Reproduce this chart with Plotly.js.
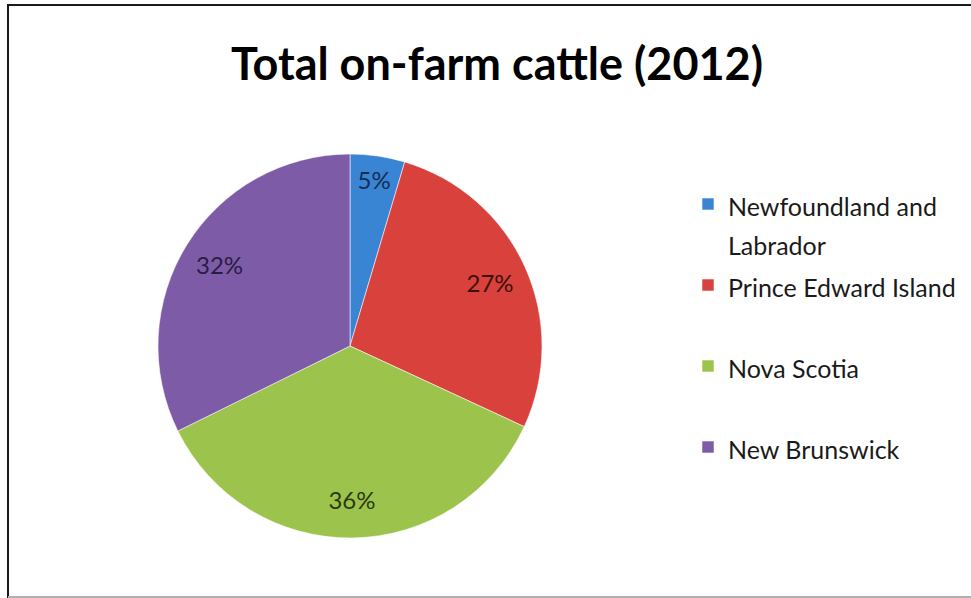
<!DOCTYPE html>
<html>
<head>
<meta charset="utf-8">
<script src="https://cdn.plot.ly/plotly-3.0.1.min.js"></script>
<style>
  html, body { margin: 0; padding: 0; background: #ffffff; }
  #chart { width: 971px; height: 598px; }
</style>
</head>
<body>
<div id="chart"></div>
<script>
// Data (share of total on-farm cattle, %)
const provinces = ["Newfoundland and<br>Labrador", "Prince Edward Island", "Nova Scotia", "New Brunswick"];
const shares = [4.6, 27.3, 35.8, 32.3];
const sliceColors = ["#3A84D4", "#D8413C", "#9CC44C", "#7D5BA6"];
const labelColors = ["#132F55", "#3E100D", "#2C3A10", "#2B1C46"];
const chartTitle = "Total on-farm cattle (2012)";

const W = 971, H = 598;
const cx = 350, cy = 346, R = 192;
const dom = {
  x: [(cx - R) / W, (cx + R) / W],
  y: [(H - cy - R) / H, (H - cy + R) / H]
};
const fam = "Lato, 'Open Sans', sans-serif";

// legend entries: every entry takes two lines, like the wrapped first one
const legendLabels = provinces.map(function (p) {
  const lines = p.split("<br>");
  if (lines.length < 2) lines.push(" ");
  return lines.map(function (l) { return "<span style=\"font-size:25px\">" + l + "</span>"; }).join("<br>");
});

// Filled pie (slices + legend)
const pieTrace = {
  type: "pie",
  labels: legendLabels,
  values: shares,
  sort: false,
  direction: "clockwise",
  rotation: 0,
  textinfo: "none",
  marker: { colors: sliceColors, line: { color: "rgba(255,255,255,0.55)", width: 1 } },
  hoverinfo: "label+percent",
  domain: dom
};

// Same data, transparent ring: only used so the percent labels sit in the outer part of each slice
const labelTrace = {
  type: "pie",
  labels: legendLabels,
  values: shares,
  sort: false,
  direction: "clockwise",
  rotation: 0,
  hole: 0.6,
  showlegend: false,
  textinfo: "percent",
  texttemplate: "%{percent:.0%}",
  textposition: "inside",
  insidetextorientation: "horizontal",
  insidetextfont: { family: fam, size: 24, color: labelColors },
  marker: { colors: ["rgba(0,0,0,0)", "rgba(0,0,0,0)", "rgba(0,0,0,0)", "rgba(0,0,0,0)"], line: { width: 0 } },
  hoverinfo: "skip",
  domain: dom
};

const layout = {
  width: W,
  height: H,
  margin: { l: 0, r: 0, t: 0, b: 0 },
  paper_bgcolor: "#ffffff",
  plot_bgcolor: "#ffffff",
  font: { family: fam, color: "#000000" },
  title: {
    text: "<b>" + chartTitle + "</b>",
    font: { family: "Lato, sans-serif", size: 45, color: "#000000" },
    x: 497 / W,
    xanchor: "center",
    y: 1 - 64 / H,
    yanchor: "middle"
  },
  showlegend: true,
  legend: {
    x: 688 / W,
    xanchor: "left",
    y: 1 - 178 / H,
    yanchor: "top",
    valign: "top",
    font: { family: "Lato, sans-serif", size: 30, color: "#1a1a1a" },
    bgcolor: "rgba(0,0,0,0)",
    traceorder: "normal"
  },
  shapes: [
    { type: "line", xref: "paper", yref: "paper", x0: 8 / W, x1: 8 / W, y0: 0, y1: 1 - 4 / H, line: { color: "#1a1a1a", width: 2 } },
    { type: "line", xref: "paper", yref: "paper", x0: 7 / W, x1: 1, y0: 1 - 5 / H, y1: 1 - 5 / H, line: { color: "#1a1a1a", width: 2 } },
    { type: "line", xref: "paper", yref: "paper", x0: 8 / W, x1: 1, y0: 1 / H, y1: 1 / H, line: { color: "#b0b0b0", width: 2 } }
  ]
};

Plotly.newPlot("chart", [pieTrace, labelTrace], layout, { displayModeBar: false, staticPlot: true });
</script>
</body>
</html>
